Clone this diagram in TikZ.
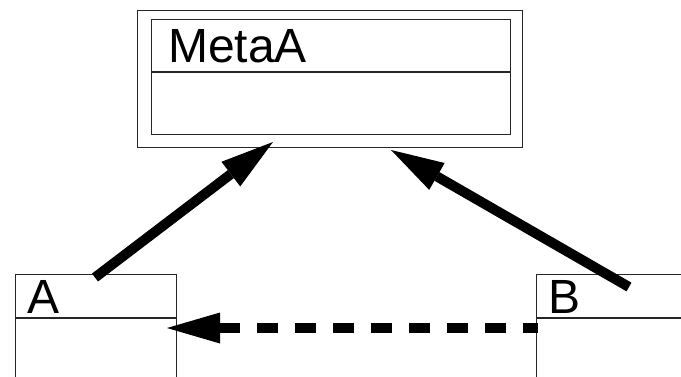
\documentclass[tikz,border=0pt]{standalone}
\usepackage{fontspec}
\setmainfont{Liberation Sans}
\usetikzlibrary{arrows.meta}
\tikzset{
  box/.style={draw=black!85, line width=1.1pt, rectangle, inner sep=0pt, anchor=north west},
  lbl/.style={font=\fontsize{48}{48}\selectfont, inner sep=0pt, anchor=base west},
  rel/.style={line width=10pt, -{Triangle[length=53pt,width=31pt,line width=0pt]}},
  dep/.style={rel, dash pattern=on 21pt off 17pt, dash phase=6pt},
}
\begin{document}
\begin{tikzpicture}[x=1pt,y=-1pt]
\useasboundingbox (0,0) rectangle (681,376);
\clip (0,0) rectangle (681,376);
\fill[white] (0,0) rectangle (681,376);
% MetaA
\node[box, minimum width=385pt, minimum height=137pt] (metaouter) at (137,10) {};
\node[box, minimum width=359pt, minimum height=115pt] (metainner) at (151,19) {};
\coordinate (mdl) at (151,72);
\coordinate (mdr) at (510,72);
\draw[black!85, line width=1.1pt] (mdl) -- (mdr);
\node[lbl] (metaname) at (168,62) {MetaA};
% A
\node[box, minimum width=161pt, minimum height=160pt] (A) at (15,274) {};
\coordinate (adl) at (15,318);
\coordinate (adr) at (176,318);
\draw[black!85, line width=1.1pt] (adl) -- (adr);
\node[lbl] (aname) at (27,313) {A};
% B
\node[box, minimum width=200pt, minimum height=160pt] (B) at (536,274) {};
\coordinate (bdl) at (536,318);
\coordinate (bdr) at (736,318);
\draw[black!85, line width=1.1pt] (bdl) -- (bdr);
\node[lbl] (bname) at (548,313) {B};
% connectors
\coordinate (atail) at (95,277.5);
\coordinate (atip) at (273,142);
\coordinate (btail) at (629,287);
\coordinate (btip) at (391,150);
\coordinate (dtail) at (538,328);
\coordinate (dtip) at (167,328);
\draw[rel] (atail) -- (atip);
\draw[rel] (btail) -- (btip);
\draw[dep] (dtail) -- (dtip);
\end{tikzpicture}
\end{document}
